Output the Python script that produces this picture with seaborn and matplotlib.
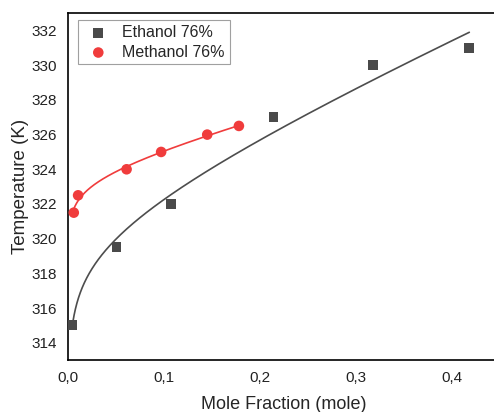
import matplotlib
matplotlib.use("Agg")
import matplotlib.pyplot as plt
import seaborn as sns
import numpy as np
import pandas as pd

sns.set_style("white")
plt.rcParams["font.family"] = ["Liberation Sans", "DejaVu Sans"]

# Solubility temperature vs. mole fraction
ethanol_x = [0.004, 0.0505, 0.107, 0.214, 0.318, 0.418]
ethanol_t = [315.0, 319.5, 322.0, 327.0, 330.0, 331.0]
methanol_x = [0.006, 0.0105, 0.061, 0.097, 0.145, 0.178]
methanol_t = [321.5, 322.5, 324.0, 325.0, 326.0, 326.5]

x_ticks = [0.0, 0.1, 0.2, 0.3, 0.4]
x_tick_labels = ["0,0", "0,1", "0,2", "0,3", "0,4"]
y_ticks = [314, 316, 318, 320, 322, 324, 326, 328, 330, 332]

gray = "#4a4a4a"
red = "#f03c3c"


def fitted_curve(x, t, n=300):
    """Least-squares fit of T = a + b*ln(x) + c*x over the measured range."""
    x = np.asarray(x, float)
    t = np.asarray(t, float)
    A = np.column_stack([np.ones_like(x), np.log(x), x])
    coef, *_ = np.linalg.lstsq(A, t, rcond=None)
    xs = np.geomspace(x.min(), x.max(), n)
    ys = coef[0] + coef[1] * np.log(xs) + coef[2] * xs
    return pd.DataFrame({"x": xs, "t": ys})


fig = plt.figure(figsize=(4.94, 4.12), dpi=100)
# the axes run slightly past the right edge of the canvas
ax = fig.add_axes([0.1377, 0.126, 0.8745, 0.842])

eth_fit = fitted_curve(ethanol_x, ethanol_t)
met_fit = fitted_curve(methanol_x, methanol_t)

sns.lineplot(data=eth_fit, x="x", y="t", ax=ax, color="#4d4d4d", lw=1.2,
             sort=False, zorder=2, legend=False)
sns.lineplot(data=met_fit, x="x", y="t", ax=ax, color=red, lw=1.2,
             sort=False, zorder=2, legend=False)

sns.scatterplot(x=ethanol_x, y=ethanol_t, ax=ax, marker="s", s=50, color=gray,
                edgecolor="none", zorder=3, label="Ethanol 76%")
sns.scatterplot(x=methanol_x, y=methanol_t, ax=ax, marker="o", s=58, color=red,
                edgecolor="none", zorder=3, label="Methanol 76%")

ax.set_xlim(0.0, 0.45)
ax.set_ylim(313, 333)
ax.set_xticks(x_ticks)
ax.set_xticklabels(x_tick_labels)
ax.set_yticks(y_ticks)
ax.tick_params(axis="both", labelsize=11, length=0, pad=8, colors="#222222")

ax.set_xlabel("Mole Fraction (mole)", fontsize=13, labelpad=8)
ax.set_ylabel("Temperature (K)", fontsize=13.5, labelpad=2)

for side in ["left", "top", "bottom"]:
    ax.spines[side].set_visible(True)
    ax.spines[side].set_color("black")
    ax.spines[side].set_linewidth(1.2)
ax.spines["right"].set_visible(False)

leg = ax.legend(loc="upper left", bbox_to_anchor=(0.022, 0.98), borderaxespad=0,
                fontsize=11.5, frameon=True, fancybox=False, edgecolor="#888888",
                handletextpad=0.5, borderpad=0.3, labelspacing=0.3, handlelength=2.0)
leg.get_frame().set_linewidth(0.8)

fig.savefig("out.png", dpi=100)
